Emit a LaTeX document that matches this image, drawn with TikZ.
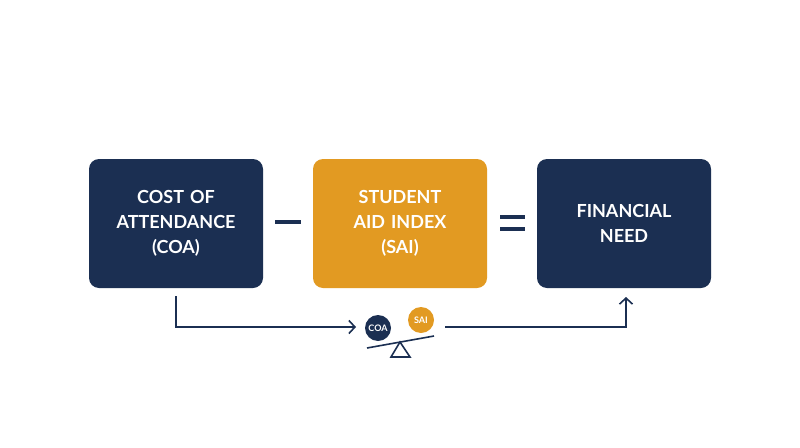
\documentclass[tikz,border=0pt]{standalone}
\usepackage{fontspec}
\setmainfont{Lato}
\usetikzlibrary{positioning,arrows.meta}
\definecolor{navy}{HTML}{1B2F52}
\definecolor{gold}{HTML}{E29A22}
\tikzset{
  box/.style={rounded corners=10pt,minimum width=174pt,minimum height=129pt,text width=160pt,align=center,text=white,font=\fontsize{18}{25}\selectfont\bfseries},
  coin/.style={circle,minimum size=26pt,inner sep=0pt,text=white,font=\fontsize{9}{9}\selectfont\bfseries},
  flow/.style={draw=navy,line width=1.6pt,-{Straight Barb[length=6pt,width=13pt]}}
}
\begin{document}
\begin{tikzpicture}[x=1pt,y=-1pt]
		\useasboundingbox (0,0) rectangle (800,447);
		\node[box,fill=navy] (coa) at (176,223.5) {COST OF\\ATTENDANCE\\(COA)};
		\node[box,fill=gold] (sai) at (400,223.5) {STUDENT\\AID INDEX\\(SAI)};
		\node[box,fill=navy] (need) at (624,223.5) {FINANCIAL\\NEED};

		% operators
		\draw[navy,line width=4pt] (275,222) -- (301,222);
		\draw[navy,line width=4pt] (500,217) -- (525,217);
		\draw[navy,line width=4pt] (500,229) -- (525,229);

		% seesaw
		\node[coin,fill=navy] (coin1) at (378,328) {COA};
		\node[coin,fill=gold] (coin2) at (421,320) {SAI};
		\draw[navy,line width=1.6pt] (367,348) -- (434,336);
		\draw[navy,line width=1.6pt] (400,342) -- (391,357) -- (410,357) -- cycle;

		\coordinate (from) at (176,296);
		\coordinate (tocoin) at (356,327);
		\coordinate (start) at (445,327);
		\coordinate (to) at (626,297);
		\draw[flow] (from) |- (tocoin);
		\draw[flow] (start) -| (to);
\end{tikzpicture}
\end{document}
